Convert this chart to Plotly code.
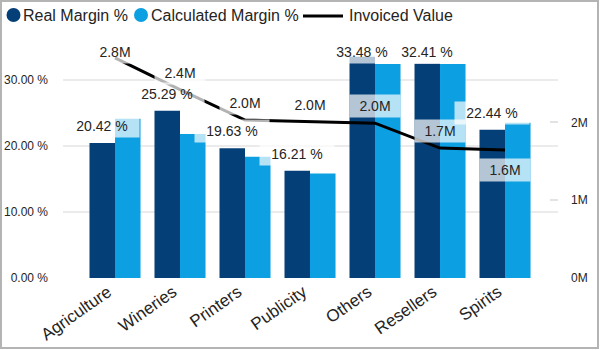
import plotly.graph_objects as go

# ---------------- data ----------------
categories = ["Agriculture", "Wineries", "Printers", "Publicity", "Others", "Resellers", "Spirits"]
real_margin = [20.42, 25.29, 19.63, 16.21, 33.48, 32.41, 22.44]
calc_margin = [24.1, 21.8, 18.35, 15.8, 32.4, 32.4, 23.5]
invoiced_value = [2.83e6, 2.42e6, 2.03e6, 2.01e6, 1.99e6, 1.67e6, 1.645e6]
left_ticks = [0, 10, 20, 30]
right_ticks = [0, 1e6, 2e6]
series_names = ["Real Margin %", "Calculated Margin %", "Invoiced Value"]

# ---------------- style / layout ----------------
DARK = "#043F77"
LIGHT = "#0C9FE1"
TXT = "#252423"
FONT = "Liberation Sans, Arial, sans-serif"
W, H = 600, 350
L, R, T, B = 63, 42, 50, 72
PW, PH = W - L - R, H - T - B
Y1MAX = 34.5
Y2MAX = 2.93e6
XR = [-0.8, 6.815]
BARGAP = 0.215


def px_x(i):
    return L + PW * (i - XR[0]) / (XR[1] - XR[0])


def py1(v):
    return T + PH * (1 - v / Y1MAX)


def py2(v):
    return T + PH * (1 - v / Y2MAX)


def paper_x(p):
    return (p - L) / PW


def paper_y(p):
    return (H - B - p) / PH


fig = go.Figure()
fig.add_trace(go.Bar(x=categories, y=real_margin, name=series_names[0],
                     marker=dict(color=DARK, line=dict(width=0)), showlegend=False))
fig.add_trace(go.Bar(x=categories, y=calc_margin, name=series_names[1],
                     marker=dict(color=LIGHT, line=dict(width=0)), showlegend=False))
fig.add_trace(go.Scatter(x=categories, y=invoiced_value, name=series_names[2], yaxis="y2",
                         mode="lines", line=dict(color="black", width=3), showlegend=False))

annotations = []
shapes = []

cat_w = PW / (XR[1] - XR[0])
bar_w = cat_w * (1 - BARGAP) / 2
TOP_CAP = 52
BOX_H = 22
BAR_BOX_W = 74
M_BOX_W = 50
bg = "rgba(255,255,255,0.7)"

for i, cat in enumerate(categories):
    # bar label (real margin), centred on dark bar
    bx = px_x(i) - bar_w / 2
    by = max(py1(real_margin[i]) - 17, TOP_CAP)
    annotations.append(dict(
        x=paper_x(bx), y=paper_y(by), xref="paper", yref="paper",
        text=f"{real_margin[i]:.2f} %", showarrow=False,
        xanchor="center", yanchor="middle", width=BAR_BOX_W, height=BOX_H,
        bgcolor=bg, borderpad=0, font=dict(size=14, color=TXT, family=FONT)))
    # invoiced value label (moved below the line if it would hit the bar label)
    mx = px_x(i)
    my = max(py2(invoiced_value[i]) - 17, TOP_CAP)
    if abs(my - by) < BOX_H - 1 and abs(mx - bx) < (BAR_BOX_W + M_BOX_W) / 2:
        my = py2(invoiced_value[i]) + 20
    annotations.append(dict(
        x=paper_x(mx), y=paper_y(my), xref="paper", yref="paper",
        text=f"{invoiced_value[i] / 1e6:.1f}M", showarrow=False,
        xanchor="center", yanchor="middle", width=M_BOX_W, height=BOX_H,
        bgcolor=bg, borderpad=0, font=dict(size=14, color=TXT, family=FONT)))

# ---------- manual legend ----------
LEG_Y = 15
for cx, col in [(13.5, DARK), (141, LIGHT)]:
    shapes.append(dict(type="circle", xref="paper", yref="paper",
                       x0=paper_x(cx - 7), x1=paper_x(cx + 7),
                       y0=paper_y(LEG_Y + 7), y1=paper_y(LEG_Y - 7),
                       fillcolor=col, line=dict(width=0), layer="above"))
shapes.append(dict(type="line", xref="paper", yref="paper",
                   x0=paper_x(303), x1=paper_x(343), y0=paper_y(LEG_Y + 1), y1=paper_y(LEG_Y + 1),
                   line=dict(color="black", width=3), layer="above"))
for tx, name in zip([21, 148.5, 346.5], series_names):
    annotations.append(dict(x=paper_x(tx), y=paper_y(LEG_Y), xref="paper", yref="paper",
                            text=name, showarrow=False, xanchor="left", yanchor="middle",
                            font=dict(size=16, color=TXT, family=FONT)))

# ---------- border ----------
shapes.append(dict(type="rect", xref="paper", yref="paper",
                   x0=paper_x(1), x1=paper_x(598), y0=paper_y(1), y1=paper_y(348),
                   line=dict(color="#b4b4b4", width=2), layer="above"))

fig.update_layout(
    width=W, height=H,
    margin=dict(l=L, r=R, t=T, b=B, pad=0, autoexpand=False),
    paper_bgcolor="white", plot_bgcolor="white",
    barmode="group", bargap=BARGAP, bargroupgap=0,
    showlegend=False,
    font=dict(family=FONT, color=TXT),
    xaxis=dict(type="category", range=XR, tickangle=-35, showgrid=False, ticks="",
               automargin=False, ticklabelshift=-7,
               tickfont=dict(size=17, color=TXT, family=FONT), showline=False, zeroline=False),
    yaxis=dict(range=[0, Y1MAX], tickvals=left_ticks, automargin=False,
               ticktext=[f"{v:.2f} %" for v in left_ticks],
               showgrid=True, gridcolor="#ebebeb", gridwidth=2, zeroline=False, showline=False,
               ticks="", ticklabelstandoff=14,
               tickfont=dict(size=12, color=TXT, family=FONT)),
    yaxis2=dict(range=[0, Y2MAX], overlaying="y", side="right", tickvals=right_ticks,
                automargin=False,
                ticktext=[f"{v / 1e6:.0f}M" for v in right_ticks],
                showgrid=False, zeroline=False, showline=False,
                ticks="inside", ticklen=8, tickcolor="#e3e3e3", tickwidth=2,
                ticklabelstandoff=12,
                tickfont=dict(size=12, color=TXT, family=FONT)),
    annotations=annotations,
    shapes=shapes,
)

fig.write_html("out.html")
